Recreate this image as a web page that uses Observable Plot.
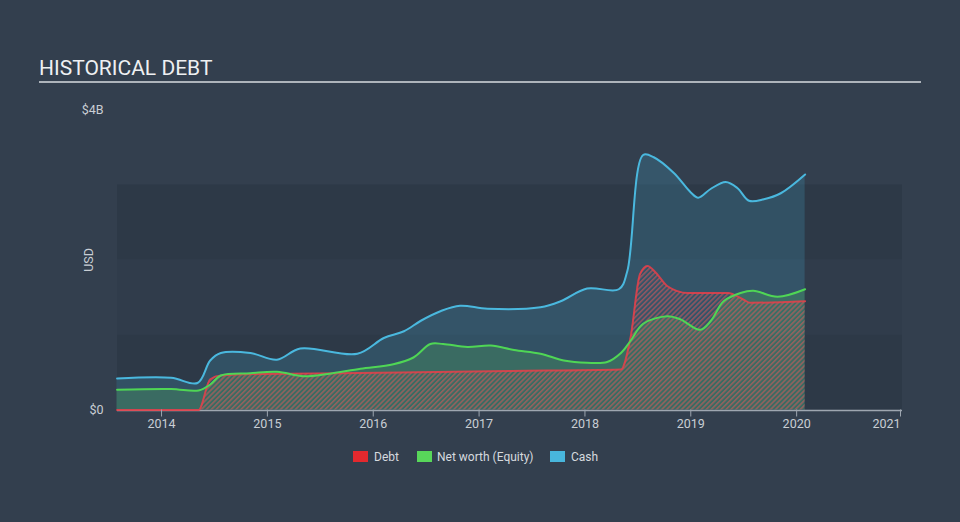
<!DOCTYPE html>
<html><head><meta charset="utf-8">
<script src="https://cdn.jsdelivr.net/npm/d3@7"></script>
<script src="https://cdn.jsdelivr.net/npm/@observablehq/plot@0.6"></script>
<style>
html,body{margin:0;padding:0;background:#333f4e;}
#wrap{position:relative;width:960px;height:522px;background:#333f4e;font-family:Roboto,sans-serif;overflow:hidden}
#title{position:absolute;left:39px;top:56px;font-size:21px;color:#eef0f2;line-height:24px;white-space:nowrap}
#rule{position:absolute;left:39px;top:80.5px;width:882px;height:2px;background:#aeb4bb}
#chart{position:absolute;left:0;top:90px}
#legend{position:absolute;top:450px;left:0;width:960px;height:16px;font-size:12px;color:#d6dadf}
.sw{position:absolute;top:1px;width:15px;height:11px}
.lb{position:absolute;top:0;line-height:14px;white-space:nowrap}
</style>
</head><body>
<div id="wrap">
  <div id="title">HISTORICAL DEBT</div>
  <div id="rule"></div>
  <div id="chart"></div>
  <div id="legend"></div>
</div>
<script>
// ---- data (years as decimal, values in billions USD) ----
const cashYears  = [2013.58,2014.09,2014.34,2014.46,2014.56,2014.84,2015.09,2015.31,2015.85,2016.10,2016.29,2016.45,2016.64,2016.82,2017.08,2017.58,2017.77,2018.02,2018.32,2018.40,2018.55,2018.65,2018.84,2019.00,2019.07,2019.19,2019.33,2019.44,2019.55,2019.69,2019.85,2020.08];
const cashValues = [0.42,0.43,0.36,0.66,0.76,0.76,0.67,0.82,0.75,0.96,1.05,1.19,1.32,1.39,1.35,1.37,1.45,1.62,1.61,1.85,3.40,3.37,3.16,2.90,2.83,2.95,3.04,2.96,2.79,2.81,2.89,3.14];

const equityYears  = [2013.58,2014.09,2014.35,2014.46,2014.56,2014.84,2015.09,2015.34,2015.57,2015.88,2016.19,2016.38,2016.54,2016.66,2016.89,2017.11,2017.33,2017.58,2017.80,2018.02,2018.21,2018.34,2018.43,2018.55,2018.78,2018.90,2019.09,2019.19,2019.31,2019.47,2019.59,2019.82,2020.08];
const equityValues = [0.27,0.28,0.26,0.34,0.46,0.49,0.51,0.45,0.48,0.55,0.61,0.70,0.88,0.88,0.84,0.86,0.80,0.75,0.66,0.63,0.64,0.76,0.92,1.15,1.25,1.21,1.07,1.19,1.45,1.56,1.59,1.51,1.61];

const debtYears  = [2013.58,2014.35,2014.46,2014.56,2014.94,2015.72,2016.26,2017.30,2018.34,2018.43,2018.52,2018.59,2018.67,2018.78,2018.97,2019.35,2019.50,2019.56,2020.08];
const debtValues = [0.00,0.00,0.41,0.46,0.48,0.49,0.50,0.52,0.54,0.96,1.81,1.92,1.83,1.65,1.56,1.56,1.47,1.43,1.45];

const xTickYears = [2014,2015,2016,2017,2018,2019,2020];
const xLastTick  = [2021];
const yTicks     = [0,4];
const darkBands  = [0,2];
const midBands   = [1];
const xDomain    = [2013.584,2021];

const seriesNames  = ["Debt","Net worth (Equity)","Cash"];
const seriesColors = ["#e3292e","#58d65a","#48b6dc"];

const toRows = (xs, vs) => xs.map((x,i) => ({x, v: vs[i]}));
const cash = toRows(cashYears, cashValues);
const equity = toRows(equityYears, equityValues);
const debt = toRows(debtYears, debtValues);

const axisColor = "#9ea6b0";
const textColor = "#c9ced4";
const curve = "catmull-rom";
const debtCurve = "monotone-x";

const plot = Plot.plot({
  width: 960, height: 360,
  marginLeft: 117, marginRight: 58, marginTop: 19.5, marginBottom: 40.5,
  style: {background: "transparent", fontFamily: "Roboto, sans-serif", fontSize: "12.5px", color: textColor},
  x: {domain: xDomain},
  y: {domain: [0,4]},
  marks: [
    Plot.rect(darkBands, {x1: xDomain[0], x2: xDomain[1], y1: d => d, y2: d => d + 1, fill: "#2d3947"}),
    Plot.rect(midBands,  {x1: xDomain[0], x2: xDomain[1], y1: d => d, y2: d => d + 1, fill: "#303c4b"}),
    Plot.areaY(cash,   {x: "x", y: "v", curve, fill: seriesColors[2], fillOpacity: 0.2}),
    Plot.areaY(equity, {x: "x", y: "v", curve, fill: seriesColors[1], fillOpacity: 0.2}),
    Plot.areaY(debt,   {x: "x", y: "v", curve: debtCurve, fill: "url(#hatch)"}),
    Plot.ruleY([0], {stroke: axisColor, strokeWidth: 1.5, dy: 0.5}),
    Plot.lineY(debt,   {x: "x", y: "v", curve: debtCurve, stroke: "#e6404a", strokeWidth: 2, strokeOpacity: 0.85}),
    Plot.lineY(equity, {x: "x", y: "v", curve, stroke: "#4fd655", strokeWidth: 2}),
    Plot.lineY(cash,   {x: "x", y: "v", curve, stroke: "#4ab8de", strokeWidth: 2}),
    Plot.axisX({ticks: xTickYears, tickFormat: d => String(d), tickSize: 7, tickPadding: 2, stroke: axisColor, fill: textColor, label: null}),
    Plot.axisX({ticks: xLastTick, tickFormat: d => String(d), tickSize: 7, tickPadding: 2, stroke: axisColor, fill: textColor, textAnchor: "end", dx: -2, label: null}),
    Plot.axisY({ticks: yTicks, tickFormat: d => d === 0 ? "$0" : `$${d}B`, tickSize: 0, tickPadding: 14,
                label: "USD", labelAnchor: "center", labelOffset: 33, labelArrow: "none", fill: textColor})
  ]
});

// hatch pattern for the debt area
const svg = d3.select(plot);
const defs = svg.insert("defs", ":first-child");
const pat = defs.append("pattern").attr("id", "hatch").attr("patternUnits", "userSpaceOnUse")
  .attr("width", 3.5).attr("height", 3.5).attr("patternTransform", "rotate(45)");
pat.append("line").attr("x1", 0.8).attr("y1", 0).attr("x2", 0.8).attr("y2", 3.5)
  .attr("stroke", "#e0585a").attr("stroke-width", 1.3).attr("stroke-opacity", 0.65);

document.getElementById("chart").appendChild(plot);

// legend
const legendLeft = [[353,374],[417,437],[550,571]];
const legend = document.getElementById("legend");
seriesNames.forEach((name, i) => {
  const sw = document.createElement("div");
  sw.className = "sw"; sw.style.left = legendLeft[i][0] + "px"; sw.style.background = seriesColors[i];
  const lb = document.createElement("div");
  lb.className = "lb"; lb.style.left = legendLeft[i][1] + "px"; lb.textContent = name;
  legend.appendChild(sw); legend.appendChild(lb);
});
</script>
</body></html>
